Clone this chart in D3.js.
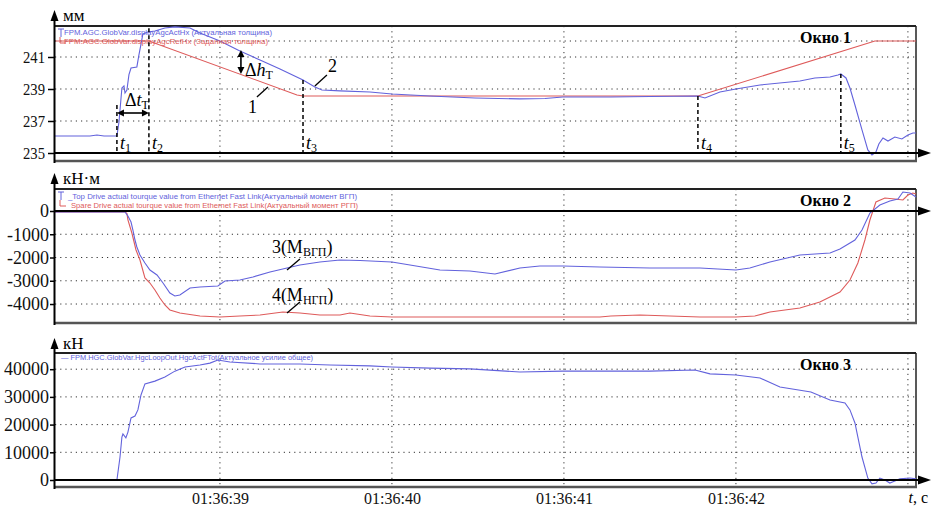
<!DOCTYPE html>
<html>
<head>
<meta charset="utf-8">
<script src="https://cdn.jsdelivr.net/npm/d3@7"></script>
<style>
body { margin: 0; background: #fff; }
</style>
</head>
<body>
<div id="chart"></div>
<script>
const svgWidth = 931;
const svgHeight = 507;

// time axis (seconds of 01:36:xx)
const timeTicks = [39, 40, 41, 42];
const timeLabels = ["01:36:39", "01:36:40", "01:36:41", "01:36:42"];
const gridSeconds = [39, 40, 41, 42, 43];

// Окно 1 - thickness, mm
const hxActual = [[38.041,236.06],[38.244,236.06],[38.285,236.12],[38.326,236.06],[38.401,236.06],[38.413,236.94],
  [38.430,239.06],[38.442,239.19],[38.448,238.75],[38.459,238.94],[38.471,239.9],[38.483,240.31],[38.517,240.38],
  [38.529,241.13],[38.541,241.81],[38.552,242.44],[38.581,242.56],[38.622,242.63],[38.680,242.81],[38.738,242.88],
  [38.826,242.81],[38.884,242.5],[39.0,242.0],[39.116,241.38],[39.233,240.81],[39.349,240.25],[39.483,239.56],
  [39.552,239.13],[39.593,238.94],[39.698,238.88],[39.872,238.81],[40.0,238.69],[40.221,238.56],[40.483,238.44],
  [40.744,238.38],[40.890,238.41],[40.994,238.5],[41.273,238.5],[41.5,238.53],[41.779,238.56],[41.820,238.44],
  [41.907,238.81],[42.0,239.0],[42.140,239.25],[42.372,239.5],[42.459,239.69],[42.547,239.75],[42.593,239.88],
  [42.610,239.94],[42.640,239.69],[42.663,239.06],[42.692,238.0],[42.733,236.44],[42.767,235.19],[42.791,234.88],
  [42.814,235.06],[42.831,235.56],[42.855,235.94],[42.884,235.75],[42.924,236.0],[42.965,235.88],[43.0,236.13],
  [43.029,236.25],[43.047,236.25]];
const hxRef = [[38.041,242.0],[38.587,242.0],[39.448,238.63],[39.483,238.56],[41.779,238.56],[42.808,242.0],[43.047,242.0]];
const hxTicks = [235, 237, 239, 241];
const hxGrid = [237, 239, 241, 242];
const tMarks = [
  {n: "1", t: 38.401, top: 238.0},
  {n: "2", t: 38.587, top: 242.8},
  {n: "3", t: 39.483, top: 239.56},
  {n: "4", t: 41.779, top: 238.56},
  {n: "5", t: 42.610, top: 239.94}
];

// Окно 2 - torque, kN*m
const mTop = [[38.041,-40],[38.448,-40],[38.465,-215],[38.483,-473],[38.494,-817],[38.506,-1247],[38.517,-1548],
  [38.535,-1892],[38.564,-2236],[38.593,-2537],[38.634,-2752],[38.669,-3096],[38.709,-3526],[38.738,-3655],
  [38.767,-3612],[38.826,-3311],[38.884,-3268],[38.988,-3225],[39.029,-3010],[39.116,-2967],[39.192,-2838],
  [39.291,-2623],[39.390,-2451],[39.465,-2322],[39.581,-2193],[39.698,-2107],[39.814,-2129],[40.0,-2193],
  [40.105,-2322],[40.279,-2537],[40.453,-2580],[40.599,-2709],[40.744,-2451],[40.860,-2365],[40.994,-2365],
  [41.209,-2408],[41.5,-2451],[41.791,-2451],[42.0,-2537],[42.081,-2451],[42.198,-2193],[42.372,-1892],
  [42.547,-1806],[42.605,-1634],[42.692,-1247],[42.733,-817],[42.779,-86],[42.837,258],[42.895,430],
  [42.942,516],[42.971,817],[43.012,774],[43.047,602]];
const mBottom = [[38.041,-40],[38.448,-40],[38.459,-100],[38.465,-387],[38.488,-946],[38.512,-1677],[38.535,-2107],
  [38.564,-2881],[38.593,-3096],[38.622,-3397],[38.651,-3741],[38.680,-4042],[38.709,-4257],[38.767,-4386],
  [38.884,-4515],[39.0,-4558],[39.116,-4515],[39.233,-4472],[39.366,-4343],[39.465,-4386],[39.581,-4472],
  [39.698,-4472],[39.756,-4386],[39.872,-4515],[40.0,-4558],[40.337,-4558],[41.209,-4558],[41.273,-4515],
  [41.442,-4472],[41.791,-4558],[42.0,-4558],[42.110,-4515],[42.198,-4343],[42.372,-4171],[42.488,-3913],
  [42.605,-3483],[42.663,-2967],[42.709,-2236],[42.750,-1247],[42.779,-387],[42.814,387],[42.866,559],
  [42.924,516],[42.971,473],[43.0,688],[43.029,774],[43.047,731]];
const mTicks = [0, -1000, -2000, -3000, -4000];
const mGrid = [-1000, -2000, -3000, -4000];

// Окно 3 - force, kN
const force = [[38.041,0],[38.401,0],[38.419,8300],[38.430,15500],[38.436,16600],[38.453,15200],[38.465,17300],
  [38.483,22400],[38.506,23100],[38.523,25300],[38.541,30700],[38.564,34700],[38.622,35700],[38.680,37200],
  [38.738,39300],[38.797,40800],[38.884,41500],[38.942,42200],[38.988,43300],[39.058,42600],[39.233,41900],
  [39.465,41900],[39.640,41500],[39.872,41200],[40.0,40800],[40.221,40400],[40.453,40100],[40.744,39000],
  [40.994,39300],[41.5,39300],[41.762,39700],[41.849,38300],[42.0,37900],[42.140,36800],[42.256,33600],
  [42.436,31800],[42.547,28900],[42.634,27800],[42.663,25300],[42.692,20600],[42.733,8300],[42.767,700],
  [42.791,-1400],[42.814,-1100],[42.837,700],[42.866,0],[42.895,-1100],[42.924,-400],[42.953,400],
  [43.012,700],[43.047,400]];
const fTicks = [0, 10000, 20000, 30000, 40000];
const fGrid = [10000, 20000, 30000, 40000];

const blue = "#6262dc";
const red = "#de5a5a";
const serif = "Liberation Serif, Times New Roman, serif";
const sans = "Liberation Sans, Arial, sans-serif";

let svg = d3.select("#chart")
    .append("svg")
    .attr("width", svgWidth)
    .attr("height", svgHeight);

const x = d3.scaleLinear().domain([38.041, 43.047]).range([55, 916]);

const panels = [
  {
    y: d3.scaleLinear().domain([234.5, 242.9375]).range([161, 26]),
    base: 235, ticks: hxTicks, grid: hxGrid, tickSize: 7, tickPad: 3, condense: 22,
    unit: "мм", unitTop: 10, title: "Окно 1",
    series: [{d: hxRef, c: red}, {d: hxActual, c: blue}],
    legend: [
      {text: "FPM.AGC.GlobVar.displayAgcActHx (Актуальная толщина)", c: blue, x: 64, dy: 6, w: 208},
      {text: "FPM.AGC.GlobVar.displayAgcRefHx (Заданная толщина)", c: red, x: 64, dy: 15, w: 204}
    ], bracket: true
  },
  {
    y: d3.scaleLinear().domain([-4816, 946]).range([323, 189]),
    base: 0, ticks: mTicks, grid: mGrid, tickSize: 5, tickPad: 1,
    unit: "кН·м", unitTop: 173, title: "Окно 2",
    series: [{d: mBottom, c: red}, {d: mTop, c: blue}],
    legend: [
      {text: "_Top Drive  actual tourque value from Ethernet Fast Link(Актуальный момент ВГП)", c: blue, x: 68, dy: 7, w: 289},
      {text: "Spare Drive  actual tourque value from Ethernet Fast Link(Актуальный момент РГП)", c: red, x: 71, dy: 16, w: 287}
    ], bracket: true
  },
  {
    y: d3.scaleLinear().domain([-2527, 45847]).range([487, 353]),
    base: 0, ticks: fTicks, grid: fGrid, tickSize: 5, tickPad: 1,
    unit: "кН", unitTop: 338, title: "Окно 3",
    series: [{d: force, c: blue}],
    legend: [
      {text: "— FPM.HGC.GlobVar.HgcLoopOut.HgcActFTot(Актуальное усилие общее)", c: blue, x: 61, dy: 4, w: 252}
    ], bracket: false
  }
];

const x0 = x.range()[0], x1 = x.range()[1];

panels.forEach(function(p) {
  const top = p.y.range()[1], bottom = p.y.range()[0];
  const g = svg.append("g");

  // dotted gridlines
  g.selectAll(".hgrid").data(p.grid).enter().append("line")
    .attr("x1", x0).attr("x2", x1)
    .attr("y1", d => p.y(d)).attr("y2", d => p.y(d))
    .attr("stroke", "#333").attr("stroke-width", 1).attr("stroke-dasharray", "1.2,4");
  g.selectAll(".vgrid").data(gridSeconds).enter().append("line")
    .attr("x1", d => x(d)).attr("x2", d => x(d))
    .attr("y1", top).attr("y2", bottom)
    .attr("stroke", "#333").attr("stroke-width", 1).attr("stroke-dasharray", "1.2,4");

  // frame
  g.append("line").attr("x1", x0).attr("x2", x1).attr("y1", top).attr("y2", top)
    .attr("stroke", "#222").attr("stroke-width", 1.8);
  g.append("line").attr("x1", x1).attr("x2", x1).attr("y1", top).attr("y2", bottom)
    .attr("stroke", "#222").attr("stroke-width", 1.5);
  g.append("line").attr("x1", x0).attr("x2", x1 + 1).attr("y1", bottom).attr("y2", bottom)
    .attr("stroke", "#555").attr("stroke-width", 2.6);

  // data lines
  const line = d3.line().x(d => x(d[0])).y(d => p.y(d[1]));
  p.series.forEach(function(s) {
    g.append("path").datum(s.d)
      .attr("d", line)
      .attr("fill", "none")
      .attr("stroke", s.c)
      .attr("stroke-width", 1.1);
  });

  // legend
  if (p.bracket) {
    g.append("path").attr("d", `M58,${top + 3}H64M61,${top + 3}V${top + 11}`)
      .attr("stroke", blue).attr("fill", "none").attr("stroke-width", 1);
    g.append("path").attr("d", `M60,${top + 11}V${top + 17}H66`)
      .attr("stroke", red).attr("fill", "none").attr("stroke-width", 1);
  }
  g.selectAll(".leg").data(p.legend).enter().append("text")
    .attr("x", d => d.x).attr("y", d => top + d.dy + 3)
    .attr("fill", d => d.c)
    .attr("font-family", sans).attr("font-size", "8px")
    .attr("textLength", d => d.w).attr("lengthAdjust", "spacingAndGlyphs")
    .text(d => d.text);

  // title
  g.append("text").attr("x", 851).attr("y", top + 17)
    .attr("text-anchor", "end")
    .attr("font-family", serif).attr("font-weight", "bold").attr("font-size", "16px")
    .text(p.title);

  // y axis with arrow
  const leftAxis = d3.axisLeft(p.y)
    .tickValues(p.ticks).tickSize(p.tickSize).tickPadding(p.tickPad)
    .tickFormat(d => String(d));
  const yAxis = g.append("g")
    .attr("transform", `translate(${x0}, 0)`)
    .call(leftAxis);
  yAxis.select(".domain").remove();
  yAxis.selectAll("line").attr("stroke", "#000").attr("stroke-width", 1.5);
  yAxis.selectAll("text")
    .attr("font-family", serif).attr("font-size", "18px").attr("fill", "#111");
  if (p.condense) {
    yAxis.selectAll("text").attr("font-size", "17px")
      .attr("textLength", p.condense).attr("lengthAdjust", "spacingAndGlyphs");
  }
  g.append("line").attr("x1", x0 - 0.5).attr("x2", x0 - 0.5)
    .attr("y1", p.unitTop + 8).attr("y2", bottom + 2)
    .attr("stroke", "#000").attr("stroke-width", 2);
  g.append("path")
    .attr("d", `M${x0 - 0.5},${p.unitTop} L${x0 - 4.5},${p.unitTop + 11} L${x0 + 3.5},${p.unitTop + 11} Z`)
    .attr("fill", "#000");
  g.append("text").attr("x", x0 + 8).attr("y", p.unitTop + 11)
    .attr("font-family", serif).attr("font-size", "17px")
    .text(p.unit);

  // x axis (zero line) with arrow
  const yb = p.y(p.base);
  g.append("line").attr("x1", x0).attr("x2", 920).attr("y1", yb).attr("y2", yb)
    .attr("stroke", "#000").attr("stroke-width", 2);
  g.append("path")
    .attr("d", `M931,${yb} L918,${yb - 4.5} L918,${yb + 4.5} Z`)
    .attr("fill", "#000");

  p.g = g;
});

// time labels
const bottomAxis = d3.axisBottom(x)
  .tickValues(timeTicks).tickSize(0).tickPadding(0)
  .tickFormat((d, i) => timeLabels[i]);
const xAxis = svg.append("g")
  .attr("transform", "translate(0, 493)")
  .call(bottomAxis);
xAxis.select(".domain").remove();
xAxis.selectAll("text").attr("font-family", serif).attr("font-size", "16px").attr("fill", "#111");

const tc = svg.append("text").attr("x", 928).attr("y", 503)
  .attr("text-anchor", "end").attr("font-family", serif).attr("font-size", "16px");
tc.append("tspan").attr("font-style", "italic").text("t");
tc.append("tspan").text(", с");

// ---- annotations, Окно 1 ----
const p1 = panels[0], y1 = p1.y, g1 = p1.g;
g1.selectAll(".tmark").data(tMarks).enter().append("line")
  .attr("x1", d => x(d.t)).attr("x2", d => x(d.t))
  .attr("y1", d => y1(d.top)).attr("y2", y1(235))
  .attr("stroke", "#000").attr("stroke-width", 1.5).attr("stroke-dasharray", "4,3");
const tl = g1.selectAll(".tlab").data(tMarks).enter().append("text")
  .attr("x", d => x(d.t) + 3).attr("y", y1(235.25))
  .attr("font-family", serif).attr("font-size", "18px");
tl.append("tspan").attr("font-style", "italic").text("t");
tl.append("tspan").attr("font-size", "12px").attr("dy", 3).text(d => d.n);

function arrowHead(g, px, py, angle) {
  g.append("path").attr("d", "M0,0 L-7,-3.5 L-7,3.5 Z")
    .attr("transform", `translate(${px},${py}) rotate(${angle})`)
    .attr("fill", "#000");
}
// Δt_T
const dtY = y1(237.5), dtA = x(tMarks[0].t), dtB = x(tMarks[1].t);
g1.append("line").attr("x1", dtA + 2).attr("x2", dtB - 2).attr("y1", dtY).attr("y2", dtY)
  .attr("stroke", "#000").attr("stroke-width", 1.6);
arrowHead(g1, dtA, dtY, 180);
arrowHead(g1, dtB, dtY, 0);
const dtT = g1.append("text").attr("x", x(38.448)).attr("y", y1(237.94))
  .attr("font-family", serif).attr("font-size", "18px");
dtT.append("tspan").text("Δ");
dtT.append("tspan").attr("font-style", "italic").text("t");
dtT.append("tspan").attr("font-size", "12px").attr("dy", 3).text("Т");

// Δh_T
const dhX = x(39.122), dhA = y1(241.44), dhB = y1(239.94);
g1.append("line").attr("x1", dhX).attr("x2", dhX).attr("y1", dhA + 2).attr("y2", dhB - 2)
  .attr("stroke", "#000").attr("stroke-width", 1.6);
arrowHead(g1, dhX, dhA, -90);
arrowHead(g1, dhX, dhB, 90);
const dhT = g1.append("text").attr("x", x(39.145)).attr("y", y1(239.81))
  .attr("font-family", serif).attr("font-size", "18px");
dhT.append("tspan").text("Δ");
dhT.append("tspan").attr("font-style", "italic").text("h");
dhT.append("tspan").attr("font-size", "12px").attr("dy", 3).text("Т");

// curve labels 1, 2
const curveLabels1 = [
  {txt: "1", t: 39.163, v: 237.5, from: [39.215, 238.5], to: [39.279, 239.125]},
  {txt: "2", t: 39.628, v: 240.06, from: [39.552, 239.19], to: [39.622, 239.88]}
];
curveLabels1.forEach(function(c) {
  g1.append("line").attr("x1", x(c.from[0])).attr("y1", y1(c.from[1]))
    .attr("x2", x(c.to[0])).attr("y2", y1(c.to[1]))
    .attr("stroke", "#000").attr("stroke-width", 1.3);
  g1.append("text").attr("x", x(c.t)).attr("y", y1(c.v))
    .attr("font-family", serif).attr("font-size", "18px").text(c.txt);
});

// ---- annotations, Окно 2 ----
const p2 = panels[1], y2 = p2.y, g2 = p2.g;
const curveLabels2 = [
  {num: "3", sub: "ВГП", t: 39.302, v: -1806, from: [39.390, -2537], to: [39.465, -2064]},
  {num: "4", sub: "НГП", t: 39.302, v: -3870, from: [39.390, -4386], to: [39.465, -3913]}
];
curveLabels2.forEach(function(c) {
  g2.append("line").attr("x1", x(c.from[0])).attr("y1", y2(c.from[1]))
    .attr("x2", x(c.to[0])).attr("y2", y2(c.to[1]))
    .attr("stroke", "#000").attr("stroke-width", 1.3);
  const t = g2.append("text").attr("x", x(c.t)).attr("y", y2(c.v))
    .attr("font-family", serif).attr("font-size", "18px");
  t.append("tspan").text(c.num + "(M");
  t.append("tspan").attr("font-size", "12px").attr("dy", 3).text(c.sub);
  t.append("tspan").attr("dy", -3).text(")");
});
</script>
</body>
</html>
